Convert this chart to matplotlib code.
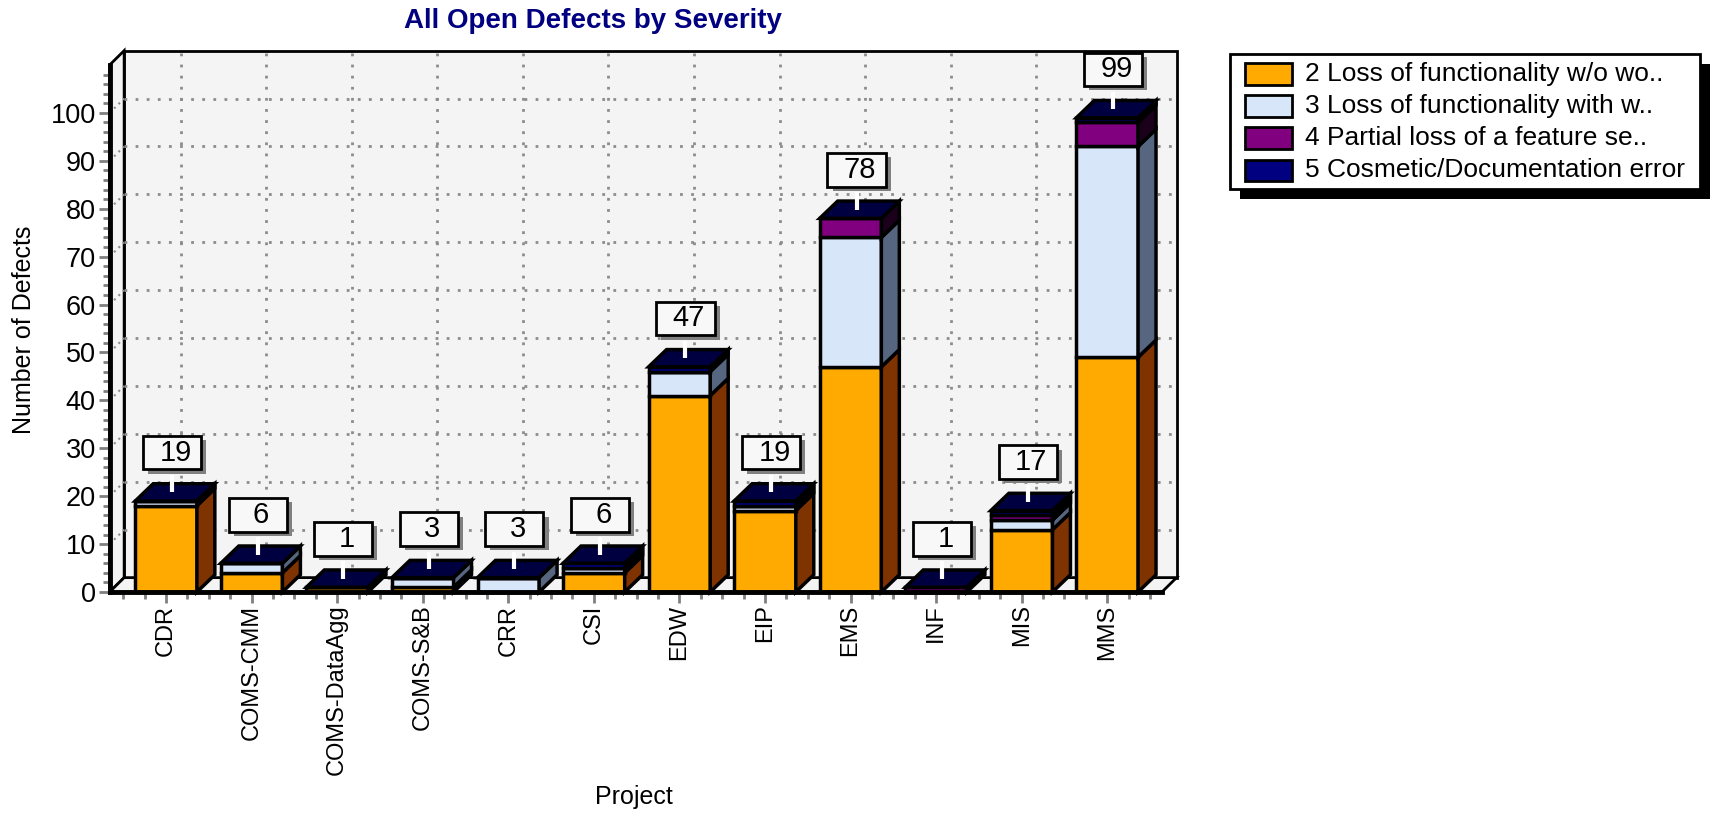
import numpy as np
import matplotlib.pyplot as plt
from matplotlib.patches import Polygon, Rectangle

plt.rcParams['font.family'] = ['Liberation Sans', 'DejaVu Sans']

# data
projects = ['CDR', 'COMS-CMM', 'COMS-DataAgg', 'COMS-S&B', 'CRR', 'CSI',
            'EDW', 'EIP', 'EMS', 'INF', 'MIS', 'MMS']
sev2 = [18, 4, 1, 1, 0, 4, 41, 17, 47, 0, 13, 49]
sev3 = [1, 2, 0, 2, 3, 1, 5, 1, 27, 0, 2, 44]
sev4 = [0, 0, 0, 0, 0, 0, 0, 0, 4, 1, 1, 5]
sev5 = [0, 0, 0, 0, 0, 1, 1, 1, 0, 0, 1, 1]
severity_labels = ['2 Loss of functionality w/o wo..',
                   '3 Loss of functionality with w..',
                   '4 Partial loss of a feature se..',
                   '5 Cosmetic/Documentation error']

face_colors = ['#FFAA00', '#D8E6FA', '#800080', '#000080']
side_colors = ['#7F3300', '#566680', '#1A001A', '#000000']
top_color = '#000040'
wall_color = '#F4F4F4'

W, H = 1719, 814
fig = plt.figure(figsize=(W / 100, H / 100), dpi=100)


def fx(px):
    return px / W


def fy(py):
    return 1 - py / H


ax = fig.add_axes([fx(109.6), fy(592), fx(1162) - fx(109.6), fy(65) - fy(592)])
ax.set_xlim(-0.66, 11.64)
ax.set_ylim(0, 110)
ax.patch.set_alpha(0)

x0, x1 = -0.66, 11.64
wdx, wdy = 0.17, 3.0     # wall depth
bdx, bdy = 0.21, 3.6     # bar depth
ytop = 110

# walls and floor
ax.add_patch(Polygon([(x0 + wdx, wdy), (x1 + wdx, wdy), (x1 + wdx, ytop + wdy),
                      (x0 + wdx, ytop + wdy)], facecolor=wall_color,
                     edgecolor='black', lw=2, zorder=0, clip_on=False))
ax.add_patch(Polygon([(x0, 0), (x0 + wdx, wdy), (x0 + wdx, ytop + wdy), (x0, ytop)],
                     facecolor=wall_color, edgecolor='black', lw=2, zorder=0, clip_on=False))
ax.add_patch(Polygon([(x0, 0), (x1, 0), (x1 + wdx, wdy), (x0 + wdx, wdy)],
                     facecolor=wall_color, edgecolor='black', lw=2, zorder=0, clip_on=False))

# grid lines
x = np.arange(len(projects))
for gy in range(10, 101, 10):
    ax.plot([x0 + wdx, x1 + wdx], [gy + wdy, gy + wdy], color='#8C8C8C', lw=2,
            ls=(0, (1, 3)), zorder=1, clip_on=False)
    ax.plot([x0, x0 + wdx], [gy, gy + wdy], color='#8C8C8C', lw=1.5,
            ls=(0, (1, 2)), zorder=1, clip_on=False)
for gx in x:
    ax.plot([gx + wdx, gx + wdx], [wdy, ytop + wdy], color='#8C8C8C', lw=2,
            ls=(0, (1, 3)), zorder=1, clip_on=False)

# stacked 3d bars
bw = 0.72
bottoms = np.zeros(len(projects))
for vals, fc, sc in zip([sev2, sev3, sev4, sev5], face_colors, side_colors):
    vals = np.array(vals, dtype=float)
    ax.bar(x, vals, bw, bottom=bottoms, color=fc, edgecolor='black', lw=2.5,
           zorder=3, clip_on=False)
    for xi, b, v in zip(x, bottoms, vals):
        if v == 0:
            continue
        xr = xi + bw / 2
        ax.add_patch(Polygon([(xr, b), (xr + bdx, b + bdy), (xr + bdx, b + v + bdy), (xr, b + v)],
                             facecolor=sc, edgecolor='black', lw=2.5, zorder=3, clip_on=False))
    bottoms += vals

totals = bottoms
for xi, t in zip(x, totals):
    xl, xr = xi - bw / 2, xi + bw / 2
    ax.add_patch(Polygon([(xl, t), (xr, t), (xr + bdx, t + bdy), (xl + bdx, t + bdy)],
                         facecolor=top_color, edgecolor='black', lw=2.5, zorder=4, clip_on=False))

# value labels
box_w, box_h = 0.68, 7.0
for xi, t in zip(x, totals):
    cx = xi + 0.07
    yb = t + 6.6
    ax.plot([cx, cx], [t + 1.8, yb - 1.2], color='white', lw=3, zorder=5,
            solid_capstyle='butt', clip_on=False)
    ax.add_patch(Rectangle((cx - box_w / 2 + 0.06, yb - 0.9), box_w, box_h,
                           facecolor='#808080', edgecolor='none', zorder=5, clip_on=False))
    ax.add_patch(Rectangle((cx - box_w / 2, yb), box_w, box_h, facecolor='#F8F8F8',
                           edgecolor='black', lw=2, zorder=6, clip_on=False))
    ax.text(cx + 0.04, yb + box_h / 2, str(int(t)), ha='center', va='center',
            fontsize=21, zorder=7, clip_on=False)

# axes
for s in ['top', 'right']:
    ax.spines[s].set_visible(False)
ax.spines['left'].set_linewidth(3.5)
ax.spines['bottom'].set_linewidth(3.5)
ax.spines['left'].set_zorder(8)
ax.spines['bottom'].set_zorder(8)

ax.set_yticks(range(0, 101, 10))
ax.set_yticks([v for v in range(2, 111, 2) if v % 10 != 0], minor=True)
ax.set_xticks(x)
ax.set_xticks([q for q in np.arange(-0.5, 11.6, 0.25) if q % 1 != 0], minor=True)
ax.set_xticklabels(projects, rotation=90, fontsize=17)
ax.tick_params(axis='y', which='major', length=8, width=2, color='#808080',
               labelsize=19.5, pad=2)
ax.tick_params(axis='y', which='minor', length=5, width=2, color='#808080')
ax.tick_params(axis='x', which='major', length=8, width=2, color='#808080', pad=1)
ax.tick_params(axis='x', which='minor', length=5, width=2, color='#808080')

fig.text(fx(24), fy(330), 'Number of Defects', rotation=90, ha='center',
         va='center', fontsize=18)
fig.text(fx(634), fy(797), 'Project', ha='center', va='center', fontsize=18)
fig.text(fx(593), fy(21), 'All Open Defects by Severity', ha='center',
         va='center', fontsize=20, fontweight='bold', color='#000080')

# legend drawn by hand with the hard black shadow
lx0, ly0, lx1, ly1 = 1230, 54, 1700, 189
fig.add_artist(Rectangle((fx(lx0 + 10), fy(ly1 + 10)), fx(lx1 - lx0), fy(ly0) - fy(ly1),
                         transform=fig.transFigure, facecolor='black', edgecolor='none'))
fig.add_artist(Rectangle((fx(lx0), fy(ly1)), fx(lx1 - lx0), fy(ly0) - fy(ly1),
                         transform=fig.transFigure, facecolor='white', edgecolor='black', lw=2))
for i, (lab, fc) in enumerate(zip(severity_labels, face_colors)):
    ry = 74 + 32 * i
    fig.add_artist(Rectangle((fx(1245), fy(ry + 10.5)), fx(47), fy(0) - fy(21),
                             transform=fig.transFigure, facecolor=fc,
                             edgecolor='black', lw=2))
    fig.text(fx(1305), fy(ry), lab, ha='left', va='center', fontsize=19)

fig.savefig('out.png', dpi=100)
